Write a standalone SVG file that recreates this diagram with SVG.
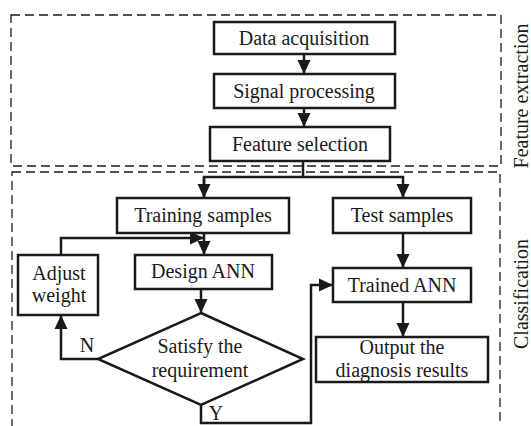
<svg xmlns="http://www.w3.org/2000/svg" width="531" height="426" viewBox="0 0 531 426">
<style>
.box{fill:#fff;stroke:#1a1a1a;stroke-width:2.5}
.dash{fill:none;stroke:#1a1a1a;stroke-width:1.3;stroke-dasharray:9 5}
.ln{fill:none;stroke:#1a1a1a;stroke-width:2.5}
text{font-family:'Liberation Serif',serif;font-size:20px;fill:#1a1a1a;text-anchor:middle}
</style>
<defs>
<marker id="ah" markerUnits="userSpaceOnUse" markerWidth="15" markerHeight="14" refX="14" refY="7" orient="auto">
<path d="M0,0.5 L14,7 L0,13.5 z" fill="#1a1a1a"/>
</marker>
</defs>
<rect class="dash" x="11" y="15" width="490" height="151"/>
<rect class="dash" x="12" y="172" width="488" height="270"/>
<text transform="translate(528,96) rotate(-90)">Feature extraction</text>
<text transform="translate(528,294) rotate(-90)">Classification</text>
<g id="connectors">
<line class="ln" x1="304" y1="54" x2="304" y2="74" marker-end="url(#ah)"/>
<line class="ln" x1="304" y1="108" x2="304" y2="127" marker-end="url(#ah)"/>
<polyline class="ln" points="303,161 303,177"/>
<polyline class="ln" points="204,198 204,177 403,177 403,198" marker-end="url(#ah)"/>
<line class="ln" x1="204" y1="177" x2="204" y2="198" marker-end="url(#ah)"/>
<line class="ln" x1="204" y1="233" x2="204" y2="255" marker-end="url(#ah)"/>
<polyline class="ln" points="61,255 61,238 204,238" marker-end="url(#ah)"/>
<line class="ln" x1="201" y1="289" x2="201" y2="313" marker-end="url(#ah)"/>
<polyline class="ln" points="98,359 61,359 61,315" marker-end="url(#ah)"/>
<polyline class="ln" points="201,405 201,423 311,423 311,285 333,285" marker-end="url(#ah)"/>
<line class="ln" x1="403" y1="233" x2="403" y2="268" marker-end="url(#ah)"/>
<line class="ln" x1="403" y1="302" x2="403" y2="337" marker-end="url(#ah)"/>
<text x="87" y="352">N</text>
<text x="216" y="420">Y</text>
</g>
<g id="data-acquisition"><rect class="box" x="214" y="22" width="181" height="32"/><text x="304" y="45">Data acquisition</text></g>
<g id="signal-processing"><rect class="box" x="214" y="74" width="181" height="34"/><text x="304" y="98">Signal processing</text></g>
<g id="feature-selection"><rect class="box" x="210" y="127" width="180" height="34"/><text x="300" y="151">Feature selection</text></g>
<g id="training-samples"><rect class="box" x="117" y="198" width="172" height="35"/><text x="203" y="222">Training samples</text></g>
<g id="test-samples"><rect class="box" x="333" y="198" width="138" height="35"/><text x="402" y="222">Test samples</text></g>
<g id="adjust-weight"><rect class="box" x="18" y="255" width="80" height="60"/><text x="59" y="280">Adjust</text><text x="59" y="302">weight</text></g>
<g id="design-ann"><rect class="box" x="135" y="255" width="137" height="34"/><text x="203" y="278">Design ANN</text></g>
<g id="trained-ann"><rect class="box" x="333" y="268" width="138" height="34"/><text x="402" y="292">Trained ANN</text></g>
<g id="satisfy"><polygon class="box" points="201,313 303,359 201,405 98,359"/><text x="200" y="353">Satisfy the</text><text x="200" y="377">requirement</text></g>
<g id="output"><rect class="box" x="316" y="337" width="172" height="45"/><text x="402" y="354">Output the</text><text x="402" y="377">diagnosis results</text></g>
</svg>
